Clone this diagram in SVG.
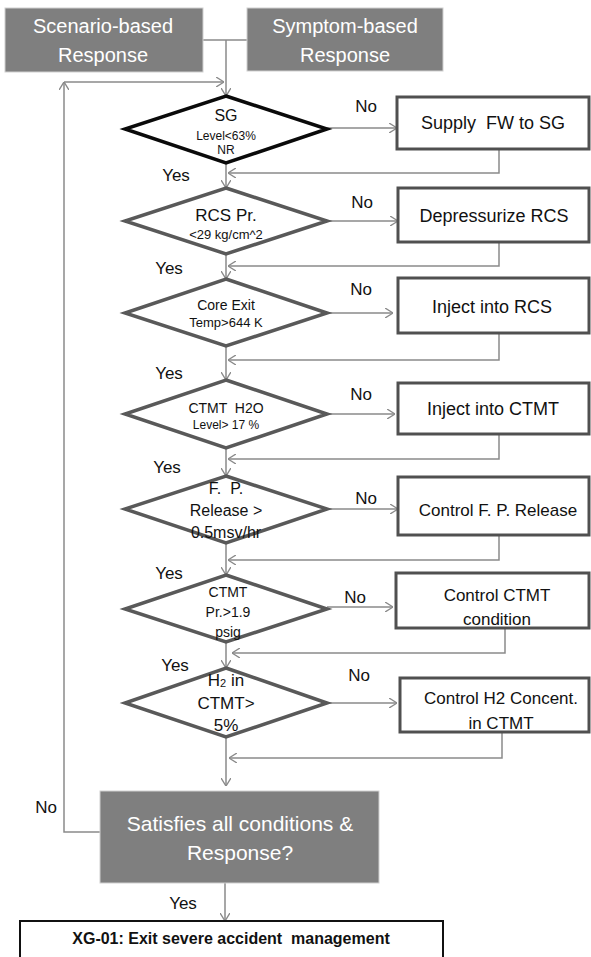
<svg xmlns="http://www.w3.org/2000/svg" width="591" height="957" viewBox="0 0 591 957">
<style>
text{font-family:"Liberation Sans",Arial,sans-serif;text-anchor:middle;dominant-baseline:central;fill:#111}
.gbox{fill:#7f7f7f;stroke:#d0d0d0;stroke-width:1}
.gtxt{fill:#fff;font-size:20px}
.dia{fill:#fff;stroke:#595959;stroke-width:3.5;stroke-linejoin:miter}
.box{fill:#fff;stroke:#505050;stroke-width:3}
.btxt{font-size:18px}
.lbl{font-size:17px}
.con{fill:none;stroke:#8a8a8a;stroke-width:1.5}
</style>
<defs>
<marker id="ah" viewBox="0 0 8 10" refX="8" refY="5" markerWidth="8" markerHeight="10" markerUnits="userSpaceOnUse" orient="auto">
<path d="M0,0 L8,5 L0,10" fill="none" stroke="#8a8a8a" stroke-width="1.4"/>
</marker>
</defs>

<g id="connectors">
<path class="con" d="M203,40 H247"/>
<path class="con" d="M226,40 V96" marker-end="url(#ah)"/>
<path class="con" d="M100,832 H64 V82" marker-end="url(#ah)"/>
<path class="con" d="M64,82 H224" marker-end="url(#ah)"/>
<path class="con" d="M226,163 V188" marker-end="url(#ah)"/>
<path class="con" d="M226,254 V279" marker-end="url(#ah)"/>
<path class="con" d="M226,346 V380" marker-end="url(#ah)"/>
<path class="con" d="M226,448 V476" marker-end="url(#ah)"/>
<path class="con" d="M226,543 V575" marker-end="url(#ah)"/>
<path class="con" d="M226,642 V668" marker-end="url(#ah)"/>
<path class="con" d="M226,737 V786" marker-end="url(#ah)"/>
<path class="con" d="M225,883 V921" marker-end="url(#ah)"/>
<path class="con" d="M327,128 H397" marker-end="url(#ah)"/>
<path class="con" d="M327,221 H398" marker-end="url(#ah)"/>
<path class="con" d="M327,313 H393" marker-end="url(#ah)"/>
<path class="con" d="M327,414 H395" marker-end="url(#ah)"/>
<path class="con" d="M327,509 H398" marker-end="url(#ah)"/>
<path class="con" d="M327,607 H393" marker-end="url(#ah)"/>
<path class="con" d="M327,703 H397" marker-end="url(#ah)"/>
<path class="con" d="M499,149 V173 H228" marker-end="url(#ah)"/>
<path class="con" d="M499,242 V266 H228" marker-end="url(#ah)"/>
<path class="con" d="M499,333 V360 H228" marker-end="url(#ah)"/>
<path class="con" d="M499,434 V459 H228" marker-end="url(#ah)"/>
<path class="con" d="M499,535 V560 H228" marker-end="url(#ah)"/>
<path class="con" d="M505,628 V653 H232" marker-end="url(#ah)"/>
<path class="con" d="M502,732 V758 H229" marker-end="url(#ah)"/>
<text class="lbl" x="366" y="106">No</text>
<text class="lbl" x="362" y="202">No</text>
<text class="lbl" x="361" y="289">No</text>
<text class="lbl" x="361" y="394">No</text>
<text class="lbl" x="366" y="498">No</text>
<text class="lbl" x="355" y="597">No</text>
<text class="lbl" x="359" y="675">No</text>
<text class="lbl" x="46" y="807">No</text>
<text class="lbl" x="176" y="175">Yes</text>
<text class="lbl" x="169" y="268">Yes</text>
<text class="lbl" x="169" y="373">Yes</text>
<text class="lbl" x="167" y="467">Yes</text>
<text class="lbl" x="169" y="573">Yes</text>
<text class="lbl" x="175" y="665">Yes</text>
<text class="lbl" x="183" y="903">Yes</text>
</g>

<g id="scenario">
<rect class="gbox" x="5" y="8" width="198" height="64"/>
<text class="gtxt" x="103" y="26">Scenario-based</text>
<text class="gtxt" x="103" y="55">Response</text>
</g>
<g id="symptom">
<rect class="gbox" x="247" y="8" width="196" height="63"/>
<text class="gtxt" x="345" y="26">Symptom-based</text>
<text class="gtxt" x="345" y="55">Response</text>
</g>

<g id="d-sg">
<polygon class="dia" style="stroke:#0a0a0a" points="226,96 327,129 226,163 125,129"/>
<text x="226" y="115" style="font-size:16px">SG</text>
<text x="226" y="136" style="font-size:12px">Level&lt;63%</text>
<text x="226" y="150" style="font-size:12px">NR</text>
</g>
<g id="b-supply">
<rect class="box" x="397" y="97" width="192" height="52"/>
<text class="btxt" x="493" y="123" xml:space="preserve">Supply  FW to SG</text>
</g>

<g id="d-rcs">
<polygon class="dia" points="226,188 327,221 226,254 125,221"/>
<text x="226" y="215" style="font-size:17px">RCS Pr.</text>
<text x="226" y="234" style="font-size:13px">&lt;29 kg/cm^2</text>
</g>
<g id="b-depress">
<rect class="box" x="398" y="188" width="191" height="54"/>
<text class="btxt" x="494" y="216">Depressurize RCS</text>
</g>

<g id="d-core">
<polygon class="dia" points="226,279 327,313 226,346 125,313"/>
<text x="226" y="305" style="font-size:14px">Core Exit</text>
<text x="226" y="322" style="font-size:13px">Temp&gt;644 K</text>
</g>
<g id="b-injrcs">
<rect class="box" x="398" y="278" width="191" height="55"/>
<text class="btxt" x="492" y="307">Inject into RCS</text>
</g>

<g id="d-h2o">
<polygon class="dia" points="226,380 327,414 226,448 125,414"/>
<text x="226" y="408" style="font-size:14px" xml:space="preserve">CTMT  H2O</text>
<text x="226" y="425" style="font-size:12px">Level&gt; 17 %</text>
</g>
<g id="b-injctmt">
<rect class="box" x="398" y="383" width="191" height="51"/>
<text class="btxt" x="493" y="409">Inject into CTMT</text>
</g>

<g id="d-fp">
<polygon class="dia" points="226,476 327,509 226,543 125,509"/>
<text x="226" y="488" style="font-size:16px" xml:space="preserve">F.  P.</text>
<text x="226" y="510" style="font-size:16px">Release &gt;</text>
<text x="226" y="532" style="font-size:16px">0.5msv/hr</text>
</g>
<g id="b-fp">
<rect class="box" x="398" y="477" width="191" height="58"/>
<text x="498" y="510" style="font-size:17px">Control F. P. Release</text>
</g>

<g id="d-pr">
<polygon class="dia" points="226,575 327,609 226,642 125,609"/>
<text x="228" y="592" style="font-size:14px">CTMT</text>
<text x="228" y="612" style="font-size:14px">Pr.&gt;1.9</text>
<text x="228" y="632" style="font-size:14px">psig</text>
</g>
<g id="b-cond">
<rect class="box" x="396" y="573" width="193" height="55"/>
<text x="497" y="595" style="font-size:17px">Control CTMT</text>
<text x="497" y="619" style="font-size:17px">condition</text>
</g>

<g id="d-h2">
<polygon class="dia" points="226,668 327,703 226,737 125,703"/>
<text x="226" y="680" style="font-size:17px">H<tspan style="font-size:11px" dy="3">2</tspan><tspan dy="-3"> in</tspan></text>
<text x="226" y="703" style="font-size:17px">CTMT&gt;</text>
<text x="226" y="725" style="font-size:17px">5%</text>
</g>
<g id="b-h2">
<rect class="box" x="400" y="678" width="189" height="54"/>
<text x="501" y="698" style="font-size:17px">Control H2 Concent.</text>
<text x="501" y="723" style="font-size:17px">in CTMT</text>
</g>

<g id="satisfies">
<rect class="gbox" x="100" y="791" width="279" height="92"/>
<text class="gtxt" x="240" y="823" style="font-size:21px">Satisfies all conditions &amp;</text>
<text class="gtxt" x="240" y="852" style="font-size:21px">Response?</text>
</g>

<g id="xg01">
<rect x="20" y="921" width="423" height="45" fill="#fff" stroke="#111" stroke-width="2"/>
<text x="231" y="938" style="font-size:16px;font-weight:bold" xml:space="preserve">XG-01: Exit severe accident  management</text>
</g>
</svg>
